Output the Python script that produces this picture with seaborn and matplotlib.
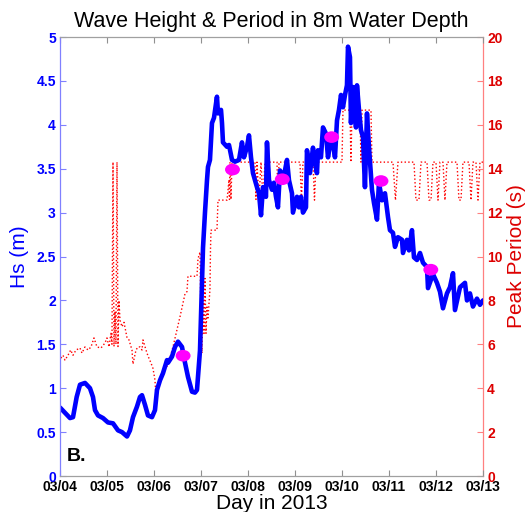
import numpy as np
import pandas as pd
import matplotlib
matplotlib.use("Agg")
import matplotlib.pyplot as plt
import seaborn as sns
from matplotlib.path import Path
from matplotlib.transforms import Affine2D

# ---------------- data (days since 03/04/2013) ----------------
hs_day = [0.00, 0.106, 0.213, 0.277, 0.355, 0.426, 0.532, 0.638, 0.702, 0.745, 0.809, 0.915,
          1.021, 1.128, 1.234, 1.319, 1.426, 1.489, 1.553, 1.638, 1.702, 1.745, 1.809, 1.872,
          1.957, 2.021, 2.064, 2.128, 2.191, 2.277, 2.298, 2.383, 2.447, 2.511, 2.596, 2.660,
          2.723, 2.809, 2.872, 2.915, 2.979, 3.011, 3.043, 3.085, 3.128, 3.149, 3.191, 3.234,
          3.277, 3.340, 3.362, 3.426, 3.447, 3.468, 3.553, 3.596, 3.660, 3.723, 3.809, 3.872,
          3.915, 3.979, 4.021, 4.064, 4.106, 4.191, 4.234, 4.277, 4.319, 4.383, 4.404, 4.447,
          4.511, 4.553, 4.596, 4.638, 4.681, 4.745, 4.787, 4.830, 4.872, 4.936, 4.957, 5.043,
          5.085, 5.128, 5.170, 5.234, 5.255, 5.319, 5.383, 5.426, 5.468, 5.489, 5.553, 5.596,
          5.660, 5.702, 5.766, 5.809, 5.851, 5.894, 5.936, 5.979, 6.021, 6.064, 6.106, 6.128,
          6.170, 6.191, 6.234, 6.255, 6.298, 6.319, 6.362, 6.404, 6.447, 6.489, 6.532, 6.574,
          6.638, 6.681, 6.745, 6.787, 6.851, 6.915, 6.979, 7.021, 7.085, 7.128, 7.191, 7.277,
          7.298, 7.383, 7.426, 7.489, 7.532, 7.596, 7.660, 7.723, 7.809, 7.830, 7.936, 8.021,
          8.085, 8.149, 8.234, 8.298, 8.362, 8.404, 8.511, 8.617, 8.660, 8.723, 8.787, 8.872,
          8.936, 9.000]
hs_val = [0.78, 0.72, 0.66, 0.67, 0.90, 1.04, 1.06, 1.00, 0.90, 0.75, 0.69, 0.66,
          0.61, 0.60, 0.52, 0.50, 0.45, 0.52, 0.67, 0.79, 0.90, 0.92, 0.81, 0.69,
          0.67, 0.75, 0.98, 1.09, 1.17, 1.32, 1.29, 1.36, 1.47, 1.53, 1.47, 1.29,
          1.13, 0.96, 0.95, 0.98, 1.43, 2.00, 2.60, 3.00, 3.37, 3.52, 3.60, 4.02,
          4.08, 4.32, 4.13, 4.17, 4.02, 3.80, 3.75, 3.77, 3.60, 3.58, 3.60, 3.80,
          3.63, 3.75, 3.88, 3.63, 3.45, 3.29, 3.22, 2.97, 3.29, 3.18, 3.80, 3.37,
          3.26, 3.34, 3.18, 3.06, 3.48, 3.39, 3.48, 3.60, 3.37, 3.22, 3.00, 3.18,
          3.06, 3.18, 3.00, 3.06, 3.71, 3.45, 3.74, 3.56, 3.45, 3.71, 3.63, 3.97,
          3.90, 3.63, 3.83, 3.79, 3.63, 4.05, 4.17, 4.34, 4.20, 4.34, 4.45, 4.89,
          4.77, 4.02, 4.43, 4.32, 3.97, 4.45, 4.17, 3.94, 3.86, 3.29, 4.13, 3.75,
          3.26, 3.11, 2.92, 3.34, 3.14, 3.22, 2.95, 2.80, 2.77, 2.61, 2.72, 2.69,
          2.54, 2.69, 2.57, 2.80, 2.49, 2.46, 2.54, 2.43, 2.38, 2.14, 2.30, 2.20,
          2.10, 1.91, 2.08, 2.15, 2.31, 1.89, 2.15, 2.20, 2.00, 2.08, 1.93, 2.02,
          1.95, 2.00]

tp_day = [0.02, 0.064, 0.106, 0.170, 0.228, 0.277, 0.340, 0.426, 0.468, 0.532, 0.596, 0.660,
          0.723, 0.787, 0.872, 0.957, 1.000, 1.043, 1.085, 1.106, 1.128, 1.149, 1.170, 1.191,
          1.213, 1.234, 1.255, 1.277, 1.319, 1.362, 1.426, 1.468, 1.532, 1.553, 1.617, 1.660,
          1.702, 1.745, 1.766, 1.830, 1.872, 1.936, 1.979, 2.021, 2.043, 2.064, 2.128, 2.191,
          2.277, 2.340, 2.404, 2.489, 2.553, 2.660, 2.702, 2.723, 2.915, 2.936, 2.979, 3.000,
          3.021, 3.043, 3.064, 3.085, 3.106, 3.128, 3.149, 3.191, 3.202, 3.213, 3.340, 3.362,
          3.553, 3.574, 3.596, 3.606, 3.617, 3.638, 3.660, 4.149, 4.170, 4.191, 4.234, 4.277,
          4.319, 4.362, 4.617, 4.638, 4.660, 5.106, 5.138, 5.170, 5.383, 5.415, 5.447, 6.000,
          6.021, 6.170, 6.191, 6.213, 6.383, 6.404, 6.426, 6.617, 6.638, 7.085, 7.138, 7.191,
          7.532, 7.574, 7.638, 7.681, 7.809, 7.851, 7.894, 7.936, 8.000, 8.043, 8.085, 8.149,
          8.191, 8.234, 8.447, 8.489, 8.532, 8.574, 8.702, 8.745, 8.787, 8.851, 8.894, 8.936,
          9.000]
tp_val = [5.37, 5.50, 5.28, 5.50, 5.74, 5.50, 5.74, 5.83, 5.60, 5.88, 5.74, 5.88,
          6.29, 5.88, 5.83, 6.06, 6.29, 5.88, 6.50, 6.00, 14.3, 5.90, 7.50, 6.00,
          14.3, 5.90, 8.00, 7.10, 6.80, 7.00, 6.30, 6.20, 5.74, 5.10, 5.74, 5.88,
          5.88, 5.74, 6.20, 5.74, 5.47, 5.15, 4.90, 4.37, 3.60, 3.90, 4.37, 4.80,
          5.00, 5.40, 5.88, 6.65, 7.25, 8.30, 8.40, 9.10, 9.10, 9.90, 10.2, 7.00,
          5.60, 8.00, 6.50, 9.00, 6.50, 7.70, 7.20, 8.50, 10.3, 11.2, 11.2, 12.57,
          12.57, 13.0, 13.5, 12.6, 14.3, 12.6, 14.3, 14.3, 12.6, 14.3, 12.6, 14.3,
          12.6, 14.3, 14.3, 12.57, 14.3, 14.3, 12.57, 14.3, 14.3, 12.57, 14.3, 14.3,
          16.67, 16.67, 14.3, 16.67, 16.67, 14.3, 16.67, 16.67, 14.3, 14.3, 12.57, 14.3,
          14.3, 12.57, 12.57, 14.3, 14.3, 12.57, 12.57, 14.3, 14.3, 12.57, 14.3, 14.3,
          12.57, 14.3, 14.3, 12.57, 12.57, 14.3, 14.3, 12.57, 14.3, 14.3, 12.57, 14.3,
          14.3]

mark_day = [2.62, 3.67, 4.73, 5.78, 6.83, 7.89]
mark_hs = [1.37, 3.49, 3.38, 3.86, 3.36, 2.35]

day_labels = ["03/04", "03/05", "03/06", "03/07", "03/08", "03/09",
              "03/10", "03/11", "03/12", "03/13"]
hs_ticks = [0, 0.5, 1, 1.5, 2, 2.5, 3, 3.5, 4, 4.5, 5]
tp_ticks = [0, 2, 4, 6, 8, 10, 12, 14, 16, 18, 20]

# ---------------- style ----------------
sns.set_theme(style="white")
plt.rcParams['font.family'] = ['Liberation Sans', 'DejaVu Sans']

fig = plt.figure(figsize=(5.29, 5.12), dpi=100)
fig.patch.set_facecolor("white")
ax1 = fig.add_axes([0.1134, 0.0703, 0.7996, 0.8574])
ax2 = ax1.twinx()
ax1.set_zorder(ax2.get_zorder() + 1)
ax1.patch.set_visible(False)
ax2.patch.set_facecolor("white")

df_hs = pd.DataFrame({"day": hs_day, "hs": hs_val})
df_tp = pd.DataFrame({"day": tp_day, "tp": tp_val})
df_mk = pd.DataFrame({"day": mark_day, "hs": mark_hs})

sns.lineplot(data=df_tp, x="day", y="tp", ax=ax2, color="#ff0000",
             linestyle=":", linewidth=1.0, estimator=None)
sns.lineplot(data=df_hs, x="day", y="hs", ax=ax1, color="#0000ff",
             linewidth=3.3, estimator=None)

ell = Path.unit_circle().transformed(Affine2D().scale(1.28, 1.0))
sns.scatterplot(data=df_mk, x="day", y="hs", ax=ax1, marker=ell, s=115,
                color="#ff00ff", edgecolor="none", zorder=5)

ax1.set_xlim(0, 9)
ax1.set_ylim(0, 5)
ax2.set_ylim(0, 20)
ax1.set_xticks(range(10))
ax1.set_xticklabels(day_labels, fontsize=10, fontweight="bold")
ax1.set_yticks(hs_ticks)
ax1.set_yticklabels([f"{v:g}" for v in hs_ticks], fontsize=10,
                    fontweight="bold", color="#0000ff")
ax2.set_yticks(tp_ticks)
ax2.set_yticklabels([str(v) for v in tp_ticks], fontsize=10,
                    fontweight="bold", color="#dd0000")

ax1.tick_params(axis="x", direction="in", top=True, bottom=True, length=4,
                width=0.8, color="#909090", pad=3, labelcolor="black")
ax1.tick_params(axis="y", direction="in", left=True, right=False, length=4,
                width=0.8, color="#8080ff", pad=3)
ax2.tick_params(axis="y", direction="in", right=True, left=False, length=4,
                width=0.8, color="#ff8080", pad=3)

for ax in (ax1, ax2):
    for s in ax.spines.values():
        s.set_linewidth(0.9)
ax1.spines["left"].set_color("#8080ff")
ax1.spines["right"].set_visible(False)
ax1.spines["top"].set_color("#a0a0a0")
ax1.spines["bottom"].set_color("#a0a0a0")
ax2.spines["left"].set_visible(False)
ax2.spines["top"].set_visible(False)
ax2.spines["bottom"].set_visible(False)
ax2.spines["right"].set_color("#ff8080")

ax1.set_xlabel("Day in 2013", fontsize=15, color="black", labelpad=0)
ax1.set_ylabel("Hs (m)", fontsize=15, color="#0000ff", labelpad=5)
ax2.set_ylabel("Peak Period (s)", fontsize=15, color="#dd0000", labelpad=3)
ax1.set_title("Wave Height & Period in 8m Water Depth", fontsize=15.5,
              color="black", pad=7)
ax1.text(0.017, 0.025, "B.", transform=ax1.transAxes, fontsize=14,
         fontweight="bold", color="black", ha="left", va="bottom")

fig.savefig("out.png", dpi=100, facecolor="white")
